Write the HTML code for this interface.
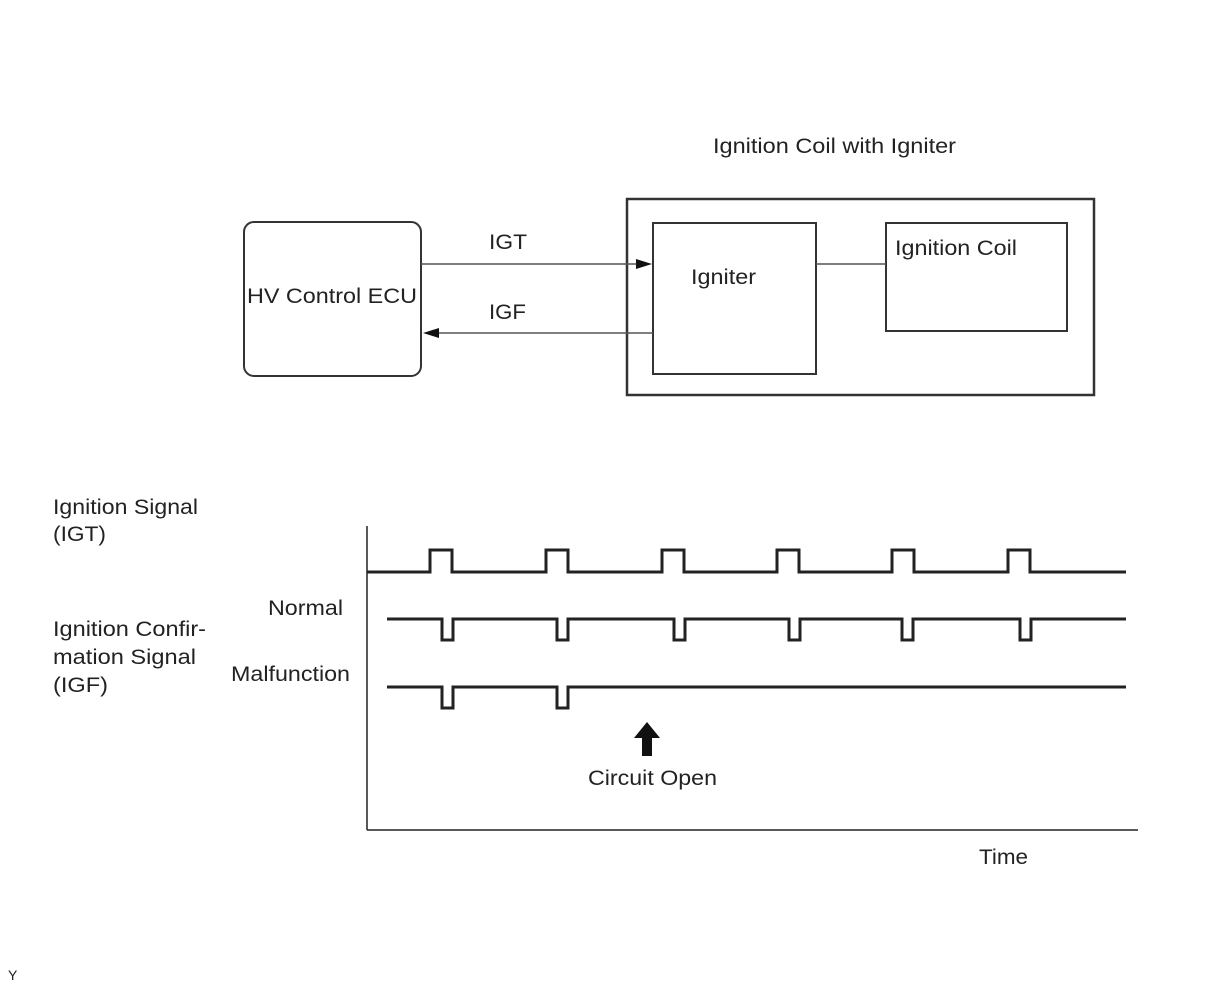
<!DOCTYPE html>
<html><head><meta charset="utf-8"><style>html,body{margin:0;padding:0;background:#fff}svg{display:block}</style></head>
<body>
<svg width="1210" height="986" viewBox="0 0 1210 986" xmlns="http://www.w3.org/2000/svg" font-family="Liberation Sans, Arial, sans-serif" font-size="21" fill="#222">
<g fill="none" stroke="#333" stroke-width="2">
<rect x="244" y="222" width="177" height="154" rx="10"/>
<rect x="627" y="199" width="467" height="196" stroke-width="2.5"/>
<rect x="653" y="223" width="163" height="151"/>
<rect x="886" y="223" width="181" height="108"/>
</g>
<g stroke="#555" stroke-width="1.5">
<line x1="816" y1="264" x2="886" y2="264"/>
<line x1="421" y1="264" x2="640" y2="264"/>
<line x1="435" y1="333" x2="653" y2="333"/>
</g>
<polygon points="652,264 636,259 636,269" fill="#111"/>
<polygon points="423,333 439,328 439,338" fill="#111"/>
<g lengthAdjust="spacingAndGlyphs">
<text x="713" y="153" textLength="243" lengthAdjust="spacingAndGlyphs">Ignition Coil with Igniter</text>
<text x="489" y="249" textLength="38" lengthAdjust="spacingAndGlyphs">IGT</text>
<text x="489" y="319" textLength="37" lengthAdjust="spacingAndGlyphs">IGF</text>
<text x="247" y="303" textLength="170" lengthAdjust="spacingAndGlyphs">HV Control ECU</text>
<text x="691" y="284" textLength="65" lengthAdjust="spacingAndGlyphs">Igniter</text>
<text x="895" y="255" textLength="122" lengthAdjust="spacingAndGlyphs">Ignition Coil</text>
</g>
<g fill="none" stroke="#222" stroke-width="1.5">
<line x1="367" y1="526" x2="367" y2="830"/>
<line x1="367" y1="830" x2="1138" y2="830"/>
</g>
<g fill="none" stroke="#222" stroke-width="3">
<polyline points="367,572 430,572 430,550 452,550 452,572 546,572 546,550 568,550 568,572 662,572 662,550 684,550 684,572 777,572 777,550 799,550 799,572 892,572 892,550 914,550 914,572 1008,572 1008,550 1030,550 1030,572 1126,572"/>
<polyline points="387,619 442,619 442,640 453,640 453,619 557,619 557,640 568,640 568,619 674,619 674,640 685,640 685,619 789,619 789,640 800,640 800,619 902,619 902,640 913,640 913,619 1020,619 1020,640 1031,640 1031,619 1126,619"/>
<polyline points="387,687 442,687 442,708 453,708 453,687 557,687 557,708 568,708 568,687 1126,687"/>
</g>
<polygon points="647,722 660,738 652,738 652,756 642,756 642,738 634,738" fill="#111"/>
<text x="53" y="514" textLength="145" lengthAdjust="spacingAndGlyphs">Ignition Signal</text>
<text x="53" y="541" textLength="53" lengthAdjust="spacingAndGlyphs">(IGT)</text>
<text x="53" y="636" textLength="153" lengthAdjust="spacingAndGlyphs">Ignition Confir-</text>
<text x="53" y="664" textLength="143" lengthAdjust="spacingAndGlyphs">mation Signal</text>
<text x="53" y="692" textLength="55" lengthAdjust="spacingAndGlyphs">(IGF)</text>
<text x="268" y="615" textLength="75" lengthAdjust="spacingAndGlyphs">Normal</text>
<text x="231" y="681" textLength="119" lengthAdjust="spacingAndGlyphs">Malfunction</text>
<text x="588" y="785" textLength="129" lengthAdjust="spacingAndGlyphs">Circuit Open</text>
<text x="979" y="864" textLength="49" lengthAdjust="spacingAndGlyphs">Time</text>
<text x="8" y="980" font-size="14">Y</text>
</svg>
</body></html>
